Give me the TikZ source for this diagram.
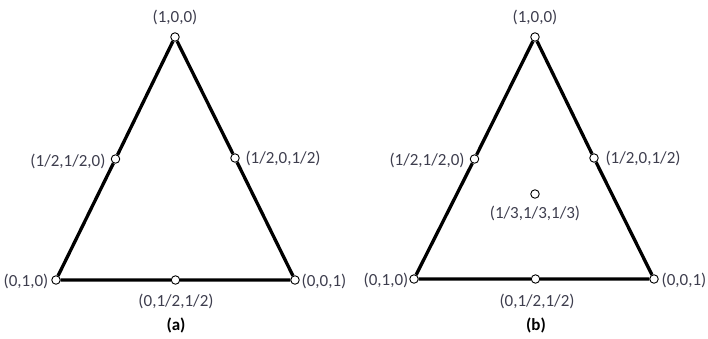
\documentclass[tikz,border=0pt]{standalone}
\usepackage{fontspec}
\setmainfont{Carlito}
\usepackage{xcolor}
\definecolor{label-grey}{HTML}{3E3E4E}

\begin{document}
\begin{tikzpicture}[x=1pt, y=-1pt,
      every node/.style={font=\fontsize{17}{20}\selectfont, text=label-grey},
      pt/.style={circle, draw=black, fill=white, line width=0.9pt,
                 minimum size=8.5pt, inner sep=0pt},
      side/.style={line width=3.3pt, black}]
    \useasboundingbox (0,0) rectangle (708,338);
    % (a)
    \node[pt] (A1) at (175,37) {};
    \node[pt] (A2) at (56,280) {};
    \node[pt] (A3) at (295,280) {};
    \node[pt] (A12) at (115.5,159) {};
    \node[pt] (A13) at (235,158) {};
    \node[pt] (A23) at (175.5,280) {};
    \draw[side] (A1) -- (A12) -- (A2) -- (A23) -- (A3) -- (A13) -- (A1);
    \node at (175,17) {(1,0,0)};
    \node at (68,161) {(1/2,1/2,0)};
    \node at (283,158) {(1/2,0,1/2)};
    \node at (26,281) {(0,1,0)};
    \node at (324,281) {(0,0,1)};
    \node at (176,301) {(0,1/2,1/2)};
    \node[text=black] at (176,325) {\textbf{(a)}};
    % (b)
    \node[pt] (B1) at (535,37) {};
    \node[pt] (B2) at (414,279) {};
    \node[pt] (B3) at (654,279) {};
    \node[pt] (B12) at (474.5,159) {};
    \node[pt] (B13) at (594,158) {};
    \node[pt] (B23) at (535.5,279) {};
    \node[pt] (B123) at (535,194) {};
    \draw[side] (B1) -- (B12) -- (B2) -- (B23) -- (B3) -- (B13) -- (B1);
    \node at (535,17) {(1,0,0)};
    \node at (427,160) {(1/2,1/2,0)};
    \node at (643,158) {(1/2,0,1/2)};
    \node at (535,213) {(1/3,1/3,1/3)};
    \node at (386,280) {(0,1,0)};
    \node at (684,280) {(0,0,1)};
    \node at (537,301) {(0,1/2,1/2)};
    \node[text=black] at (536,325) {\textbf{(b)}};
\end{tikzpicture}
\end{document}
